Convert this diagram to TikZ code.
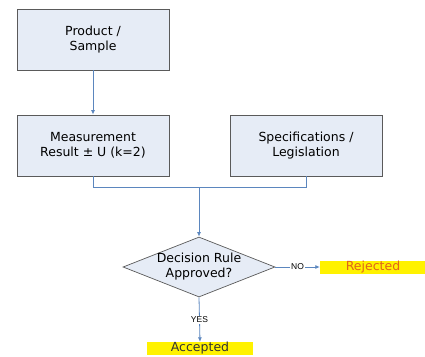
\documentclass[tikz,border=0pt]{standalone}
\usepackage{fontspec}
\setmainfont{DejaVu Sans}
\newfontfamily\labelfont{Liberation Sans}
\usetikzlibrary{shapes.geometric,arrows.meta}

\definecolor{boxfill}{HTML}{E6ECF6}
\definecolor{boxline}{HTML}{5A5A5A}
\definecolor{flowline}{HTML}{5B86BE}
\definecolor{rejtext}{HTML}{E0641A}

\tikzset{
    stepbox/.style={draw=boxline, line width=0.9pt, fill=boxfill,
        minimum width=152pt, minimum height=61pt, align=center,
        font=\fontsize{12.5}{15}\selectfont},
    decision/.style={diamond, draw=boxline, line width=0.7pt, fill=boxfill,
        aspect=2.5, inner sep=0pt, minimum width=152pt, minimum height=60pt,
        align=center, font=\fontsize{12.5}{15}\selectfont},
    outcome/.style={fill=yellow, minimum width=106pt, minimum height=13pt,
        inner sep=0pt, font=\fontsize{12.5}{15}\selectfont},
    flow/.style={draw=flowline, line width=0.8pt},
    flowarrow/.style={flow, -{Latex[length=4.5pt,width=4pt]}},
    answer/.style={fill=white, inner sep=1pt, font=\labelfont\fontsize{8.5}{10}\selectfont}
}

\begin{document}
\begin{tikzpicture}[x=1pt, y=-1pt]
    \useasboundingbox (0,0) rectangle (425,356);
    \clip (0,0) rectangle (425,356);

    % Boxes
    \node[stepbox] (product) at (93,39.5) {Product /\\Sample};
    \node[stepbox] (meas) at (93,145.5) {Measurement\\Result ± U (k=2)};
    \node[stepbox] (spec) at (306,145.5) {Specifications /\\Legislation};
    \coordinate (join) at (199,187);

    % Decision
    \node[decision] (rule) at (199,267) {\makebox[60pt]{Decision Rule}\\Approved?};

    % Outcomes
    \node[outcome, text=rejtext] (rejected) at (373,267) {Rejected};
    \node[outcome, text=black!80] (accepted) at (200,348.5) {Accepted};

    % Connectors
    \draw[flowarrow] (product) -- (meas);
    \draw[flow] (meas.south) |- (join);
    \draw[flow] (spec.south) |- (join);
    \draw[flowarrow] (join) -- (rule.north);
    \draw[flowarrow] (rule.east) -- node[answer] {NO} (rejected.west);
    \draw[flowarrow] (rule.south) -- node[answer] {YES} (accepted.north);
\end{tikzpicture}
\end{document}
